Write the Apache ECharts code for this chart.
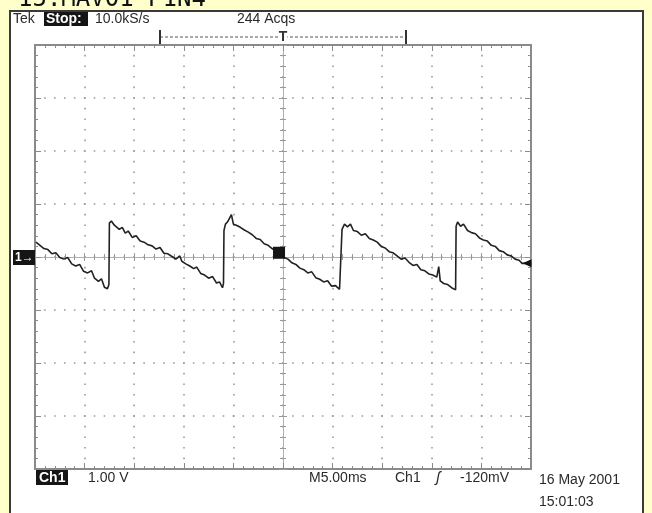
<!DOCTYPE html>
<html>
<head>
<meta charset="utf-8">
<script src="https://cdn.jsdelivr.net/npm/echarts@6/dist/echarts.min.js"></script>
<style>
html,body{margin:0;padding:0;background:#ffffcc;}
#chart{width:652px;height:513px;}
</style>
</head>
<body>
<div id="chart"></div>
<script>
// ---- data (time in ms relative to trigger, channel 1 in volts) ----
const timeMs = [
 -24.9,-24.5,-24.1,-23.7,-23.3,-22.9,-22.5,-22.1,-21.7,-21.3,-20.9,-20.5,-20.1,-19.7,-19.3,-19.0,-18.6,-18.3,-18.0,-17.7,
 -17.55,-17.5,-17.3,-17.0,-16.8,-16.5,-16.2,-15.9,-15.6,-15.2,-14.8,-14.4,-14.0,-13.6,-13.2,-12.8,-12.4,-12.0,-11.6,-11.2,
 -10.8,-10.4,-10.2,-9.8,-9.4,-9.0,-8.7,-8.3,-7.9,-7.5,-7.1,-6.7,-6.4,-6.1,-6.0,-5.95,-5.8,-5.6,-5.4,-5.2,
 -5.0,-4.7,-4.3,-3.9,-3.5,-3.1,-2.7,-2.3,-1.9,-1.5,-1.1,-0.7,-0.3,0.1,0.5,0.9,1.3,1.7,2.1,2.5,
 2.9,3.3,3.7,4.1,4.5,4.9,5.3,5.7,5.9,5.95,6.2,6.5,6.8,7.1,7.5,7.9,8.3,8.7,9.1,9.5,
 9.9,10.3,10.7,11.1,11.5,11.9,12.3,12.7,13.1,13.5,13.9,14.3,14.7,15.1,15.5,15.7,15.85,16.2,16.6,17.0,
 17.4,17.45,17.6,17.9,18.2,18.6,19.0,19.4,19.8,20.2,20.6,21.0,21.4,21.8,22.2,22.6,23.0,23.4,23.8,24.1,24.4
];
const ch1Volts = [
 0.28,0.22,0.16,0.14,0.06,0.08,-0.01,-0.04,-0.01,-0.13,-0.17,-0.14,-0.27,-0.30,-0.26,-0.40,-0.46,-0.41,-0.57,-0.60,
 -0.52,0.64,0.68,0.60,0.63,0.52,0.56,0.45,0.49,0.37,0.40,0.30,0.28,0.23,0.21,0.15,0.18,0.07,0.06,0.01,
 -0.04,0.02,-0.08,-0.13,-0.17,-0.22,-0.19,-0.31,-0.34,-0.40,-0.37,-0.49,-0.47,-0.58,-0.50,0.50,0.62,0.66,0.64,0.80,
 0.62,0.60,0.56,0.51,0.47,0.42,0.35,0.33,0.25,0.22,0.16,0.11,0.07,-0.01,-0.04,-0.11,-0.14,-0.21,-0.24,-0.30,
 -0.28,-0.39,-0.42,-0.47,-0.45,-0.55,-0.54,-0.61,-0.64,0.52,0.62,0.57,0.62,0.50,0.48,0.41,0.44,0.35,0.32,0.28,
 0.20,0.17,0.10,0.08,0.02,-0.04,-0.02,-0.10,-0.16,-0.14,-0.24,-0.26,-0.32,-0.34,-0.38,-0.18,-0.45,-0.50,-0.52,-0.58,
 -0.62,0.58,0.66,0.58,0.62,0.50,0.46,0.44,0.36,0.32,0.30,0.22,0.20,0.12,0.10,0.04,0.02,-0.04,-0.06,-0.12,-0.12
];
const timeRange = [-25, 25];      // 10 div x 5 ms
const timeStep = 5;
const voltRange = [-4, 4];        // 8 div x 1 V
const voltStep = 1;
const triggerLevelV = -0.12;
const triggerPoint = [-0.4, 0.08];

const titleText = '15.MAV01 P1N4';
const headerTexts = ['Tek', 'Stop:', '10.0kS/s', '244 Acqs'];
const footerTexts = ['Ch1', '1.00 V', 'M5.00ms', 'Ch1', '\u0283', '-120mV', '16 May 2001', '15:01:03'];

const pts = timeMs.map((t, i) => [t, ch1Volts[i]]);

const border = '#8a8a8a';
function borderAxis(pos) {
  return {
    type: 'value', position: pos,
    axisLine: {show: true, onZero: false, lineStyle: {color: border, width: 2}},
    axisTick: {show: true, inside: true, length: 6, lineStyle: {color: border, width: 1}},
    minorTick: {show: true, splitNumber: 5, length: 3, lineStyle: {color: border, width: 1}},
    axisLabel: {show: false},
    splitLine: {show: false}
  };
}
function centerAxis(pos) {
  return {
    type: 'value', position: pos,
    axisLine: {show: true, onZero: true, lineStyle: {color: '#b0b0b0', width: 1}},
    axisTick: {show: true, inside: true, length: 4, lineStyle: {color: '#999', width: 1}},
    minorTick: {show: true, splitNumber: 5, length: 3, lineStyle: {color: '#999', width: 1}},
    axisLabel: {show: false},
    splitLine: {show: false}
  };
}
function withRange(ax, r, step) { return Object.assign(ax, {min: r[0], max: r[1], interval: step}); }

const xAxes = [
  borderAxis('bottom'), borderAxis('top'), centerAxis('bottom'), centerAxis('top')
].map(a => withRange(a, timeRange, timeStep));
xAxes[0].splitLine = {show: true, lineStyle: {color: '#9a9a9a', width: 1.6, type: [1.6, 9.0], dashOffset: 0.8}};
const yAxes = [
  borderAxis('left'), borderAxis('right'), centerAxis('left'), centerAxis('right')
].map(a => withRange(a, voltRange, voltStep));
yAxes[0].splitLine = {show: true, lineStyle: {color: '#9a9a9a', width: 1.6, type: [1.6, 8.32], dashOffset: 0.8}};

const F = '"Liberation Sans", Arial, sans-serif';
function txt(text, x, y, size, opts) {
  return Object.assign({type: 'text', x: x, y: y, z: 100,
    style: Object.assign({text: text, font: size + 'px ' + F, fill: '#2a2a2a', verticalAlign: 'middle'}, opts || {})});
}
function box(x, y, w, h) {
  return {type: 'rect', z: 99, shape: {x: x, y: y, width: w, height: h}, style: {fill: '#151515'}};
}

const chart = echarts.init(document.getElementById('chart'), null, {renderer: 'canvas'});
chart.setOption({
  animation: false,
  backgroundColor: '#ffffcc',
  grid: {left: 35, top: 45, width: 496, height: 424, show: false},
  xAxis: xAxes,
  yAxis: yAxes,
  series: [{
    type: 'line', xAxisIndex: 0, yAxisIndex: 0,
    data: pts, symbol: 'none', silent: true,
    lineStyle: {color: '#222', width: 1.6},
    markPoint: {
      silent: true, label: {show: false},
      data: [
        {coord: [timeRange[1], triggerLevelV], symbol: 'triangle', symbolRotate: 90, symbolSize: [8, 9], symbolOffset: [-4, 0], itemStyle: {color: '#111'}},
        {coord: triggerPoint, symbol: 'rect', symbolSize: [12, 12], itemStyle: {color: '#151515'}}
      ]
    }
  }],
  graphic: [
    {type: 'rect', z: -10, shape: {x: 10, y: 11, width: 633, height: 520}, style: {fill: '#ffffff', stroke: '#3a3a3a', lineWidth: 2}},
    txt(titleText, 18, 0, 24, {font: '24px "DejaVu Sans Mono", monospace', fill: '#111'}),
    txt(headerTexts[0], 13, 19, 14),
    box(44, 12, 44, 14),
    txt(headerTexts[1], 46, 19, 14, {fill: '#fff', font: 'bold 14px ' + F}),
    txt(headerTexts[2], 95, 19, 14),
    txt(headerTexts[3], 237, 19, 14),
    // record bracket with trigger position
    {type: 'line', z: 50, shape: {x1: 160, y1: 37, x2: 406, y2: 37}, style: {stroke: '#555', lineWidth: 1, lineDash: [3, 2]}},
    {type: 'line', z: 50, shape: {x1: 160, y1: 30, x2: 160, y2: 44}, style: {stroke: '#333', lineWidth: 2}},
    {type: 'line', z: 50, shape: {x1: 406, y1: 30, x2: 406, y2: 44}, style: {stroke: '#333', lineWidth: 2}},
    txt('T', 283, 37, 14, {align: 'center', font: 'bold 14px ' + F, fill: '#333', backgroundColor: '#fff'}),
    // channel ground marker
    box(13, 250, 22, 15),
    txt('1\u2192', 15, 258, 12, {fill: '#fff', font: 'bold 12px ' + F}),
    // footer
    box(36, 470, 32, 15),
    txt(footerTexts[0], 39, 478, 14, {fill: '#fff', font: 'bold 14px ' + F}),
    txt(footerTexts[1], 88, 478, 14),
    txt(footerTexts[2], 309, 478, 14),
    txt(footerTexts[3], 395, 478, 14),
    txt(footerTexts[4], 436, 478, 15, {font: 'italic 15px ' + F}),
    txt(footerTexts[5], 460, 478, 14),
    txt(footerTexts[6], 539, 480, 14),
    txt(footerTexts[7], 539, 502, 14)
  ]
});
</script>
</body>
</html>
